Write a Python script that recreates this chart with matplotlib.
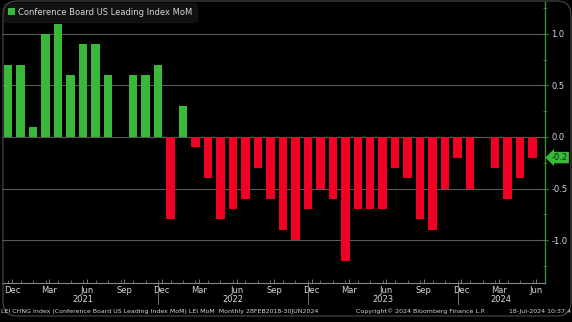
import matplotlib
matplotlib.use("Agg")
import matplotlib.pyplot as plt
import matplotlib.transforms as mtransforms
from matplotlib.patches import FancyBboxPatch, Patch
from matplotlib.ticker import MultipleLocator, FixedLocator
import pandas as pd

# ---------------- data ----------------
months = pd.period_range("2020-12", "2024-06", freq="M")
values = [0.7,
          0.7, 0.1, 1.0, 1.1, 0.6, 0.9, 0.9, 0.6, 0.0, 0.6, 0.6, 0.7,
          -0.8, 0.3, -0.1, -0.4, -0.8, -0.7, -0.6, -0.3, -0.6, -0.9, -1.0, -0.7,
          -0.5, -0.6, -1.2, -0.7, -0.7, -0.7, -0.3, -0.4, -0.8, -0.9, -0.5, -0.2,
          -0.5, 0.0, -0.3, -0.6, -0.4, -0.2]
series_name = "Conference Board US Leading Index MoM"
month_tick_labels = ["Dec", "Mar", "Jun", "Sep"] * 3 + ["Dec", "Mar", "Jun"]
year_labels = ["2021", "2022", "2023", "2024"]
last_value_label = "-0.2"

# ---------------- style ----------------
BG = "#000000"
GREEN = "#3ab83a"
RED = "#f20024"
AXGREEN = "#3a8a3a"
GRID = "#5a5a5a"
TXT = "#d8d8d8"

W, H = 572, 322
fig = plt.figure(figsize=(W / 100, H / 100), dpi=100, facecolor=BG)
ax = fig.add_axes([2 / W, 1 - 283 / H, (545 - 2) / W, (283 - 2) / H])
ax.set_facecolor(BG)

x = list(range(len(values)))
colors = [GREEN if v >= 0 else RED for v in values]
ax.bar(x, values, width=0.68, color=colors, zorder=3)

ax.set_xlim(-0.5, 43.0)
ax.set_ylim(-1.417, 1.31)

# grid
for g in [1.0, 0.5, 0.0, -0.5, -1.0]:
    ax.axhline(g, color=GRID, lw=0.8, zorder=1)

# spines
for s in ["top", "left"]:
    ax.spines[s].set_visible(False)
ax.spines["right"].set_color(AXGREEN)
ax.spines["right"].set_linewidth(1.0)
ax.spines["bottom"].set_color("#888888")
ax.spines["bottom"].set_linewidth(0.8)

# y axis on the right
ax.yaxis.tick_right()
ax.yaxis.set_major_locator(FixedLocator([1.0, 0.5, 0.0, -0.5, -1.0]))
ax.yaxis.set_minor_locator(MultipleLocator(0.25))
ax.set_yticklabels(["1.0", "0.5", "0.0", "-0.5", "-1.0"])
ax.tick_params(axis="y", which="major", colors=AXGREEN, length=5, width=0.8,
               direction="inout", labelcolor=TXT, labelsize=6, pad=2)
ax.tick_params(axis="y", which="minor", colors=AXGREEN, length=3, width=0.6,
               direction="inout")

# x axis ticks
tick_pos = list(range(0, len(values), 3))
ax.xaxis.set_major_locator(FixedLocator([p + 0.3 for p in tick_pos]))
ax.set_xticklabels(month_tick_labels)
ax.xaxis.set_minor_locator(FixedLocator(x))
ax.tick_params(axis="x", which="major", colors="#888888", length=3, width=0.6,
               direction="in", labelcolor=TXT, labelsize=6, pad=2)
ax.tick_params(axis="x", which="minor", colors="#888888", length=2, width=0.5,
               direction="in")

# year labels & separators
trans = mtransforms.blended_transform_factory(ax.transData, fig.transFigure)
year_pos = [6, 18, 30, 39.5]
for yl, xp in zip(year_labels, year_pos):
    fig.text(xp, 1 - 300 / H, yl, transform=trans, ha="center", va="center",
             fontsize=6, color=TXT)
for xp in [12, 24, 36]:
    ax.plot([xp, xp], [1 - 283 / H, 1 - 304 / H], transform=trans,
            color="#888888", lw=0.6, clip_on=False)

# legend
leg = ax.legend(handles=[Patch(facecolor=GREEN, edgecolor="none", label=series_name)],
                loc="upper left", bbox_to_anchor=(0.0, 1.0), fontsize=6,
                frameon=True, facecolor="#161616", edgecolor="#161616",
                handlelength=0.9, handleheight=0.9, handletextpad=0.3,
                borderpad=0.5, borderaxespad=0.2, labelcolor=TXT)
leg.get_frame().set_boxstyle("round,pad=0.1,rounding_size=0.4")

# last value tag
ytrans = mtransforms.blended_transform_factory(ax.transAxes, ax.transData)
ax.text(1.012, values[-1], last_value_label, transform=ytrans,
        ha="left", va="center", fontsize=6, color="#0a2a0a",
        bbox=dict(boxstyle="larrow,pad=0.15", fc=GREEN, ec="none"), clip_on=False)

# footer
fig.text(1 / W, 1 - 311 / H,
         "LEI CHNG Index (Conference Board US Leading Index MoM) LEI MoM  Monthly 28FEB2018-30JUN2024",
         ha="left", va="center", fontsize=4.5, color=TXT)
fig.text(421 / W, 1 - 311 / H, "Copyright\u00a9 2024 Bloomberg Finance L.P.",
         ha="center", va="center", fontsize=4.5, color=TXT)
fig.text(571 / W, 1 - 311 / H, "18-Jul-2024 10:37:4",
         ha="right", va="center", fontsize=4.5, color=TXT)

# outer rounded frame
frame = FancyBboxPatch((3 / W, 6 / H), 568 / W, 315 / H,
                       boxstyle="round,pad=0,rounding_size=0.025",
                       transform=fig.transFigure, fill=False,
                       ec="#4a4a4a", lw=0.8, mutation_aspect=W / H)
fig.patches.append(frame)

fig.savefig("out.png", dpi=100, facecolor=BG)
